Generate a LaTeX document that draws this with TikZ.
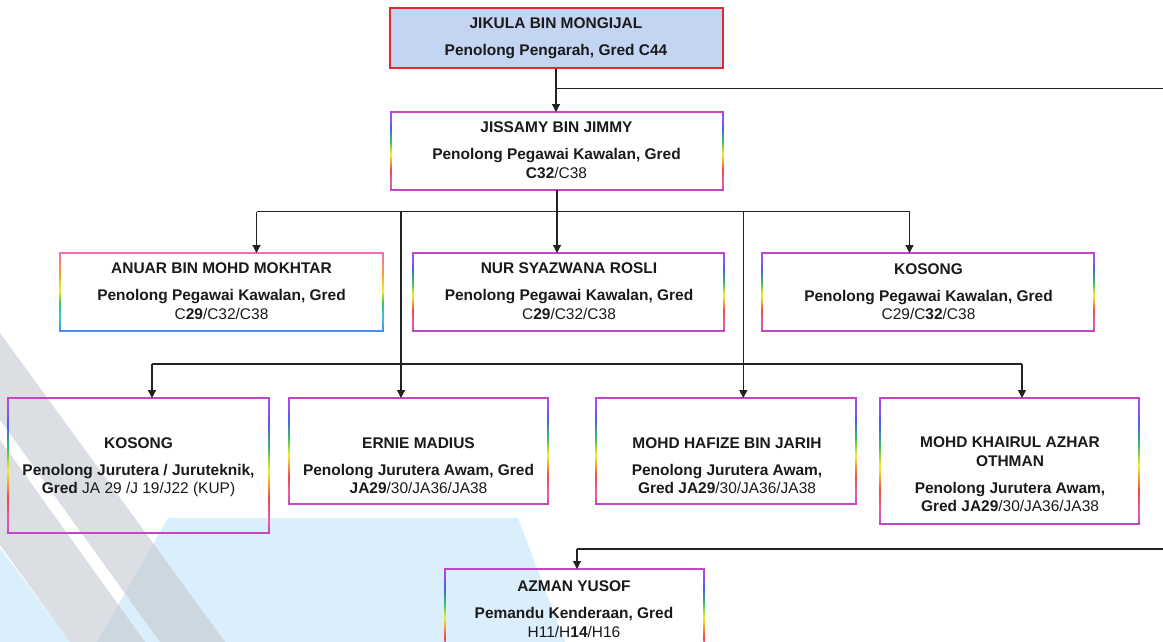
\documentclass[tikz,border=0pt]{standalone}
\usepackage{fontspec}
\setmainfont{Liberation Sans}
\usetikzlibrary{arrows.meta,calc}
\definecolor{rbMag}{HTML}{C445C8}
\definecolor{rbPur}{HTML}{A050E8}
\definecolor{rbBlu}{HTML}{4A5CF5}
\definecolor{rbGrn}{HTML}{3CC060}
\definecolor{rbYel}{HTML}{F5F020}
\definecolor{rbOra}{HTML}{F5A030}
\definecolor{rbRed}{HTML}{F04848}
\definecolor{rbPnk}{HTML}{E860A8}
\definecolor{anTop}{HTML}{F070B4}
\definecolor{anBot}{HTML}{4C8CF0}
\definecolor{anCya}{HTML}{40C0E0}
\definecolor{topFill}{HTML}{C3D5F3}
\definecolor{topLine}{HTML}{E02A30}
\definecolor{wmGray}{HTML}{C4C8CF}
\definecolor{wmBlue}{HTML}{DBEEFB}
\definecolor{conn}{HTML}{222222}
\definecolor{txtc}{HTML}{1A1A1A}
\pgfdeclareverticalshading{rbw}{100bp}{color(0bp)=(rbMag); color(25bp)=(rbMag); color(30bp)=(rbPnk); color(38bp)=(rbRed); color(48bp)=(rbYel); color(56bp)=(rbGrn); color(65bp)=(rbBlu); color(71bp)=(rbPur); color(75bp)=(rbPur); color(100bp)=(rbPur)}
\pgfdeclareverticalshading{rbwA}{100bp}{color(0bp)=(anBot); color(25bp)=(anBot); color(34bp)=(anCya); color(43bp)=(rbGrn); color(51bp)=(rbYel); color(61bp)=(rbOra); color(75bp)=(anTop); color(100bp)=(anTop)}
\newcommand{\boxfont}{\fontsize{11.6}{13.6}\selectfont\bfseries}
\newcommand{\rbox}[8]{%
  \node[boxshape, minimum width={(#4-#2)*0.75pt}, minimum height={(#5-#3)*0.75pt}] (#1) at ({(#2+#4)/2},{(#3+#5)/2}) {};
  \shade[shading=#6] ($(#1.north west)+(-0.75,0)$) rectangle ($(#1.south west)+(0.75,0)$);
  \shade[shading=#6] ($(#1.north east)+(-0.75,0)$) rectangle ($(#1.south east)+(0.75,0)$);
  \draw[line width=1.1pt,#7] ($(#1.north west)+(-0.75,0)$) -- ($(#1.north east)+(0.75,0)$);
  \draw[line width=1.1pt,#8] ($(#1.south west)+(-0.75,0)$) -- ($(#1.south east)+(0.75,0)$);
}
\begin{document}
\begin{tikzpicture}[x=0.75pt,y=-0.75pt,
  boxshape/.style={inner sep=0pt, outer sep=0pt, draw=none},
  txt/.style={inner sep=0pt, align=center, font=\boxfont, text=txtc},
  ln/.style={draw=conn, line width=0.9pt},
  arr/.style={ln, -{Triangle[width=6pt,length=6pt]}},
  topbox/.style={draw=topLine, line width=1.5pt, fill=topFill, inner sep=0pt, align=center, font=\boxfont, text=txtc}]
\useasboundingbox (0,0) rectangle (1163,642);
\clip (0,0) rectangle (1163,642);
\fill[white] (0,0) rectangle (1163,642);
% watermark
\fill[wmBlue] (168,518) -- (518,518) -- (565,642) -- (97,642) -- cycle;
\fill[wmBlue] (0,548) -- (70,642) -- (0,642) -- cycle;
\fill[wmGray, fill opacity=0.6] (0,333) -- (225,642) -- (160,642) -- (0,420) -- cycle;
\fill[wmGray, fill opacity=0.6] (0,440) -- (145,642) -- (70,642) -- (0,545) -- cycle;
% top box
\node[topbox, minimum width={333*0.75pt}, minimum height={60*0.75pt}] (jikula) at (556,38)
  {JIKULA BIN MONGIJAL\\[7pt]Penolong Pengarah, Gred C44};
% boxes
\rbox{jissamy}{391}{112}{723}{190}{rbw}{rbMag}{rbMag}
\rbox{anuar}{60}{253}{383}{331}{rbwA}{anTop}{anBot}
\rbox{nur}{413}{253}{724}{331}{rbw}{rbMag}{rbMag}
\rbox{kosong1}{762}{253}{1094}{331}{rbw}{rbMag}{rbMag}
\rbox{kosong2}{8}{398}{269}{533}{rbw}{rbMag}{rbMag}
\rbox{ernie}{289}{398}{548}{504}{rbw}{rbMag}{rbMag}
\rbox{hafize}{596}{398}{856}{504}{rbw}{rbMag}{rbMag}
\rbox{khairul}{880}{398}{1139}{524}{rbw}{rbMag}{rbMag}
\rbox{azman}{445}{569}{704}{660}{rbw}{rbMag}{rbMag}
% texts
\node[txt] (jissamyT) at (556.5,150) {JISSAMY BIN JIMMY\\[7pt]Penolong Pegawai Kawalan, Gred\\C32{\mdseries/C38}};
\node[txt] (anuarT) at (221.5,291) {ANUAR BIN MOHD MOKHTAR\\[7pt]Penolong Pegawai Kawalan, Gred\\{\mdseries C}29{\mdseries/C32/C38}};
\node[txt] (nurT) at (569,291) {NUR SYAZWANA ROSLI\\[7pt]Penolong Pegawai Kawalan, Gred\\{\mdseries C}29{\mdseries/C32/C38}};
\node[txt] (kosong1T) at (928.5,291.5) {KOSONG\\[7pt]Penolong Pegawai Kawalan, Gred\\{\mdseries C29/C}32{\mdseries/C38}};
\node[txt] (kosong2T) at (138.5,467) {KOSONG\\[7pt]Penolong Jurutera / Juruteknik,\\Gred{\mdseries\ JA 29 /J 19/J22 (KUP)}};
\node[txt] (ernieT) at (418.5,465.5) {ERNIE MADIUS\\[7pt]Penolong Jurutera Awam, Gred\\JA29{\mdseries/30/JA36/JA38}};
\node[txt] (hafizeT) at (727,465.5) {MOHD HAFIZE BIN JARIH\\[7pt]Penolong Jurutera Awam,\\Gred JA29{\mdseries/30/JA36/JA38}};
\node[txt] (khairulT) at (1010,474.5) {MOHD KHAIRUL AZHAR\\OTHMAN\\[7pt]Penolong Jurutera Awam,\\Gred JA29{\mdseries/30/JA36/JA38}};
\node[txt] (azmanT) at (574,609) {AZMAN YUSOF\\[7pt]Pemandu Kenderaan, Gred\\{\mdseries H11/H}14{\mdseries/H16}};
% connectors
\coordinate (e0) at (1163,88.3);
\draw[arr] (jikula.south) -- (jikula.south |- jissamy.north);
\draw[ln] (jikula.south |- e0) -- (e0);
\draw[arr] (jissamy.south) -- (jissamy.south |- nur.north);
\coordinate (h1L) at (256.5,211.5);
\coordinate (h1R) at (909.5,211.5);
\draw[ln] (h1L) -- (h1R);
\draw[arr] (h1L) -- (h1L |- anuar.north);
\draw[arr] (h1R) -- (h1R |- kosong1.north);
\coordinate (v1) at (401,211.5);
\coordinate (v2) at (743.3,211.5);
\draw[arr] (v1) -- (v1 |- ernie.north);
\draw[arr] (v2) -- (v2 |- hafize.north);
\coordinate (h2L) at (152,364);
\coordinate (h2R) at (1022,364);
\draw[ln] (h2L) -- (h2R);
\draw[arr] (h2L) -- (h2L |- kosong2.north);
\draw[arr] (h2R) -- (h2R |- khairul.north);
\coordinate (h3L) at (577,549);
\coordinate (h3R) at (1163,549);
\draw[ln] (h3R) -- (h3L);
\draw[arr] (h3L) -- (h3L |- azman.north);
\end{tikzpicture}
\end{document}
